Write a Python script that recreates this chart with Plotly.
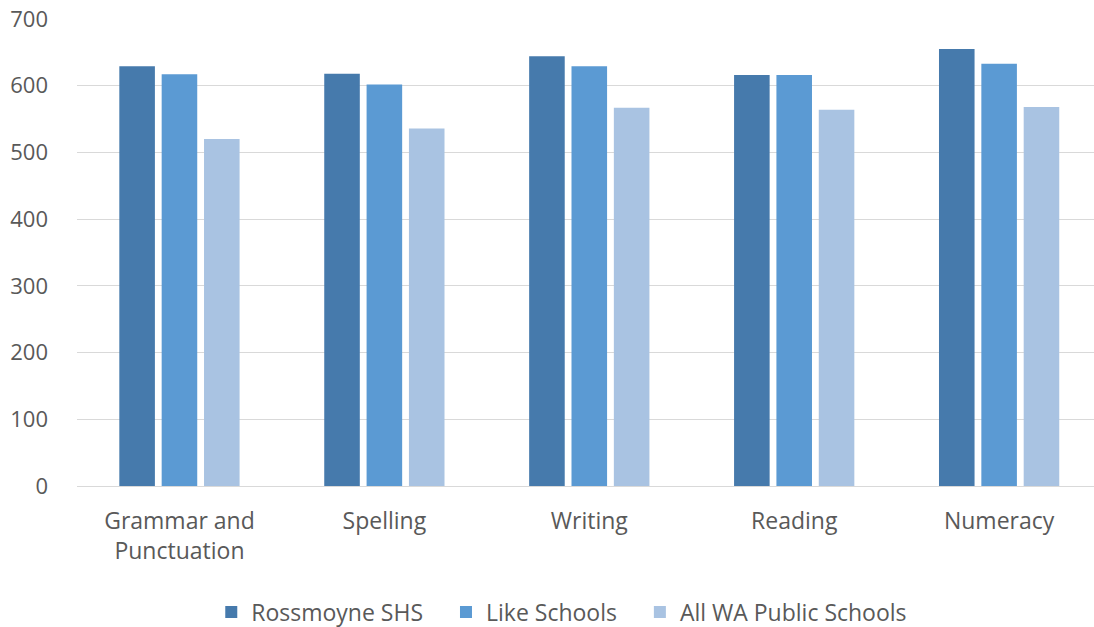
import plotly.graph_objects as go

# NAPLAN mean scores by domain
categories = ["Grammar and<br>Punctuation", "Spelling", "Writing", "Reading", "Numeracy"]
rossmoyne = [629, 618, 644, 616, 655]
like_schools = [617, 602, 629, 616, 633]
all_wa = [520, 536, 567, 564, 568]

series_names = ["Rossmoyne SHS", "Like Schools", "All WA Public Schools"]
series_colors = ["#467AAC", "#5B9AD3", "#A9C3E2"]
y_ticks = [0, 100, 200, 300, 400, 500, 600, 700]

FONT = "Open Sans"
TEXT_COLOR = "#595959"
GRID_COLOR = "#D9D9D9"
PAD = "\u00a0" * 3  # extra room between legend entries

fig = go.Figure()
for i, (name, values, color) in enumerate(zip(series_names, [rossmoyne, like_schools, all_wa], series_colors)):
    label = name + (PAD if i < len(series_names) - 1 else "")
    fig.add_trace(go.Bar(
        x=categories,
        y=values,
        name=label,
        marker=dict(color=color, line=dict(width=0)),
    ))

fig.update_layout(
    width=1094,
    height=627,
    margin=dict(l=77, r=0, t=19, b=141),
    paper_bgcolor="white",
    plot_bgcolor="white",
    barmode="group",
    bargap=0.38,
    bargroupgap=0.16,
    font=dict(family=FONT, size=22, color=TEXT_COLOR),
    legend=dict(
        orientation="h",
        xref="container",
        yref="container",
        x=0.5135,
        xanchor="center",
        y=0.024,
        yanchor="middle",
        font=dict(family=FONT, size=23, color=TEXT_COLOR),
        itemclick=False,
    ),
    xaxis=dict(
        range=[-0.5, 4.463],
        automargin=False,
        showgrid=False,
        showline=True,
        linecolor=GRID_COLOR,
        linewidth=1,
        ticks="",
        ticklabelstandoff=14,
        tickfont=dict(family=FONT, size=23, color=TEXT_COLOR),
    ),
    yaxis=dict(
        range=[0, 700],
        automargin=False,
        tickvals=y_ticks,
        showgrid=True,
        gridcolor=GRID_COLOR,
        gridwidth=1,
        zeroline=False,
        showline=False,
        ticks="",
        ticklabelstandoff=28,
        tickfont=dict(family=FONT, size=22, color=TEXT_COLOR),
    ),
)

fig.write_html("out.html")
